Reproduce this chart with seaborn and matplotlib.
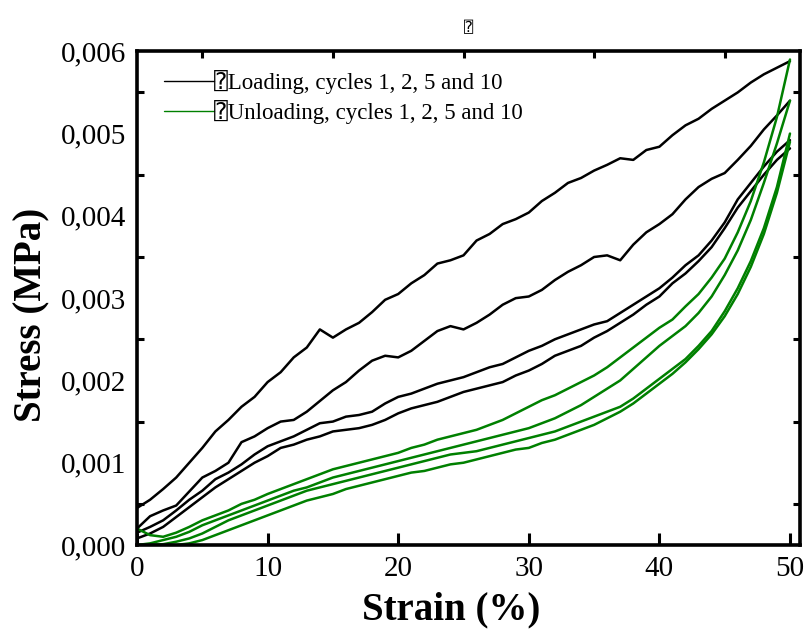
import matplotlib
matplotlib.use('Agg')
import matplotlib.pyplot as plt
from matplotlib.lines import Line2D
from matplotlib.ticker import FuncFormatter, FixedLocator
import numpy as np
import pandas as pd
import seaborn as sns

# strain (%) read at 1 % steps
strain = list(range(0, 51))

# loading branches, stress in MPa
load_c1 = [0.00045, 0.00055, 0.00068, 0.00082, 0.00100, 0.00118, 0.00138, 0.00152, 0.00168, 0.00180,
           0.00198, 0.00210, 0.00228, 0.00240, 0.00262, 0.00252, 0.00262, 0.00270, 0.00283, 0.00298,
           0.00305, 0.00318, 0.00328, 0.00342, 0.00346, 0.00352, 0.00370, 0.00378, 0.00390, 0.00396,
           0.00404, 0.00418, 0.00428, 0.00440, 0.00446, 0.00455, 0.00462, 0.00470, 0.00468, 0.00480,
           0.00484, 0.00498, 0.00510, 0.00518, 0.00530, 0.00540, 0.00550, 0.00562, 0.00572, 0.00580,
           0.00588]
load_c2 = [0.00020, 0.00035, 0.00042, 0.00048, 0.00065, 0.00082, 0.00090, 0.00100, 0.00125, 0.00132,
           0.00142, 0.00150, 0.00152, 0.00162, 0.00175, 0.00188, 0.00198, 0.00212, 0.00224, 0.00230,
           0.00228, 0.00236, 0.00248, 0.00260, 0.00266, 0.00262, 0.00270, 0.00280, 0.00292, 0.00300,
           0.00302, 0.00310, 0.00322, 0.00332, 0.00340, 0.00350, 0.00352, 0.00346, 0.00365, 0.00380,
           0.00390, 0.00402, 0.00420, 0.00435, 0.00445, 0.00452, 0.00468, 0.00485, 0.00505, 0.00522,
           0.00540]
load_c5 = [0.00015, 0.00022, 0.00030, 0.00042, 0.00055, 0.00066, 0.00080, 0.00088, 0.00098, 0.00110,
           0.00120, 0.00126, 0.00132, 0.00140, 0.00148, 0.00150, 0.00156, 0.00158, 0.00162, 0.00172,
           0.00180, 0.00184, 0.00190, 0.00196, 0.00200, 0.00204, 0.00210, 0.00216, 0.00220, 0.00228,
           0.00236, 0.00242, 0.00250, 0.00256, 0.00262, 0.00268, 0.00272, 0.00282, 0.00292, 0.00302,
           0.00312, 0.00325, 0.00340, 0.00352, 0.00370, 0.00392, 0.00420, 0.00440, 0.00460, 0.00478,
           0.00492]
load_c10 = [0.00008, 0.00014, 0.00022, 0.00034, 0.00046, 0.00058, 0.00070, 0.00080, 0.00090, 0.00100,
            0.00108, 0.00118, 0.00122, 0.00128, 0.00132, 0.00138, 0.00140, 0.00142, 0.00146, 0.00152,
            0.00160, 0.00166, 0.00170, 0.00174, 0.00180, 0.00186, 0.00190, 0.00194, 0.00198, 0.00206,
            0.00212, 0.00220, 0.00230, 0.00236, 0.00242, 0.00252, 0.00260, 0.00270, 0.00280, 0.00292,
            0.00302, 0.00318, 0.00330, 0.00345, 0.00362, 0.00385, 0.00410, 0.00430, 0.00450, 0.00468,
            0.00482]

# unloading branches, stress in MPa (listed by increasing strain)
unload_c1 = [0.00020, 0.00012, 0.00010, 0.00015, 0.00022, 0.00030, 0.00036, 0.00042, 0.00050, 0.00055,
             0.00062, 0.00068, 0.00074, 0.00080, 0.00086, 0.00092, 0.00096, 0.00100, 0.00104, 0.00108,
             0.00112, 0.00118, 0.00122, 0.00128, 0.00132, 0.00136, 0.00140, 0.00146, 0.00152, 0.00160,
             0.00168, 0.00176, 0.00182, 0.00190, 0.00198, 0.00206, 0.00216, 0.00228, 0.00240, 0.00252,
             0.00264, 0.00274, 0.00290, 0.00305, 0.00325, 0.00348, 0.00380, 0.00418, 0.00465, 0.00520,
             0.00590]
unload_c2 = [0.00000, 0.00002, 0.00006, 0.00010, 0.00016, 0.00024, 0.00030, 0.00036, 0.00042, 0.00048,
             0.00054, 0.00060, 0.00066, 0.00070, 0.00076, 0.00082, 0.00086, 0.00090, 0.00094, 0.00098,
             0.00102, 0.00106, 0.00110, 0.00114, 0.00118, 0.00122, 0.00126, 0.00130, 0.00134, 0.00138,
             0.00142, 0.00148, 0.00154, 0.00162, 0.00170, 0.00180, 0.00190, 0.00200, 0.00214, 0.00228,
             0.00242, 0.00254, 0.00266, 0.00282, 0.00302, 0.00328, 0.00358, 0.00395, 0.00440, 0.00488,
             0.00540]
unload_c5 = [0.00000, 0.00000, 0.00001, 0.00004, 0.00008, 0.00014, 0.00022, 0.00030, 0.00036, 0.00042,
             0.00048, 0.00054, 0.00060, 0.00066, 0.00070, 0.00074, 0.00078, 0.00082, 0.00086, 0.00090,
             0.00094, 0.00098, 0.00102, 0.00106, 0.00110, 0.00112, 0.00114, 0.00118, 0.00122, 0.00126,
             0.00130, 0.00134, 0.00138, 0.00144, 0.00150, 0.00156, 0.00162, 0.00168, 0.00178, 0.00190,
             0.00202, 0.00214, 0.00226, 0.00242, 0.00260, 0.00284, 0.00312, 0.00345, 0.00385, 0.00435,
             0.00500]
unload_c10 = [0.00000, 0.00000, 0.00000, 0.00000, 0.00002, 0.00006, 0.00012, 0.00018, 0.00024, 0.00030,
              0.00036, 0.00042, 0.00048, 0.00054, 0.00058, 0.00062, 0.00068, 0.00072, 0.00076, 0.00080,
              0.00084, 0.00088, 0.00090, 0.00094, 0.00098, 0.00100, 0.00104, 0.00108, 0.00112, 0.00116,
              0.00118, 0.00124, 0.00128, 0.00134, 0.00140, 0.00146, 0.00154, 0.00162, 0.00172, 0.00184,
              0.00196, 0.00208, 0.00222, 0.00238, 0.00256, 0.00278, 0.00305, 0.00338, 0.00378, 0.00428,
              0.00490]

legend_labels = ['\u2370Loading, cycles 1, 2, 5 and 10', '\u2370Unloading, cycles 1, 2, 5 and 10']
x_ticks = [0, 10, 20, 30, 40, 50]
y_ticks = [0.000, 0.001, 0.002, 0.003, 0.004, 0.005, 0.006]

sns.set_style('ticks')
plt.rcParams['font.family'] = ['Liberation Serif', 'DejaVu Sans Mono', 'DejaVu Sans']
plt.rcParams.update({'text.color': 'black', 'axes.labelcolor': 'black',
                     'xtick.color': 'black', 'ytick.color': 'black',
                     'axes.edgecolor': 'black'})

fig = plt.figure(figsize=(8.06, 6.33), dpi=100)
ax = fig.add_axes([0.170, 0.139, 0.8226, 0.780])

for y in [load_c1, load_c2, load_c5, load_c10]:
    sns.lineplot(x=strain, y=y, color='black', lw=1.8, estimator=None, ax=ax)
for y in [unload_c1, unload_c2, unload_c5, unload_c10]:
    sns.lineplot(x=strain, y=y, color='#008000', lw=1.8, estimator=None, ax=ax)

ax.set_xlim(0, 50.77)
ax.set_ylim(0, 0.006)

ax.xaxis.set_major_locator(FixedLocator(x_ticks))
ax.xaxis.set_minor_locator(FixedLocator([5, 15, 25, 35, 45]))
ax.yaxis.set_major_locator(FixedLocator(y_ticks))
ax.yaxis.set_minor_locator(FixedLocator([0.0005, 0.0015, 0.0025, 0.0035, 0.0045, 0.0055]))
ax.yaxis.set_major_formatter(FuncFormatter(lambda v, p: f'{v:.3f}'.replace('.', ',')))

ax.tick_params(axis='x', which='major', direction='in', length=9, width=2.2,
               bottom=True, top=False, labelsize=21, pad=8)
ax.tick_params(axis='x', which='minor', direction='in', length=5, width=2.2,
               bottom=False, top=True)
ax.tick_params(axis='y', which='major', direction='in', length=0, labelsize=21, pad=8)
ax.tick_params(axis='y', which='minor', direction='in', length=5, width=2.2,
               left=True, right=True)

for s in ax.spines.values():
    s.set_linewidth(2.6)
    s.set_color('black')
    s.set_visible(True)

ax.set_xlabel('Strain (%)', fontsize=28, fontweight='bold')
ax.set_ylabel('Stress (MPa)', fontsize=28, fontweight='bold')
ax.xaxis.set_label_coords(0.474, -0.095)
ax.yaxis.set_label_coords(-0.13, 0.466)
ax.set_title('\u2370', fontsize=11, pad=14)

handles = [Line2D([0], [0], color='black', lw=1),
           Line2D([0], [0], color='#008000', lw=1)]
ax.legend(handles, legend_labels, loc='upper left', bbox_to_anchor=(0.02, 0.99),
          frameon=False, fontsize=16.5, handlelength=2.2, handletextpad=0.0,
          labelspacing=0.25, borderaxespad=0.2)

fig.savefig('out.png', dpi=100)
